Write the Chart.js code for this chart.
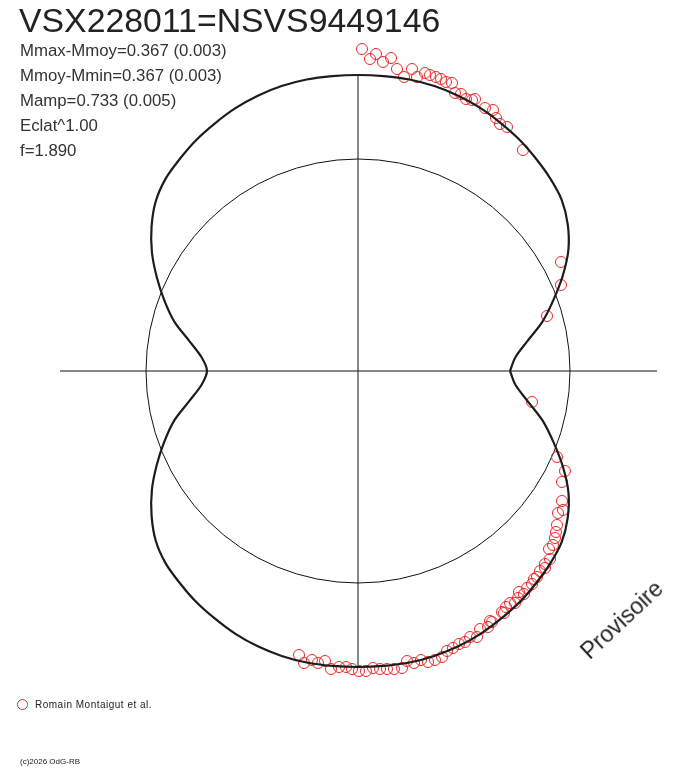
<!DOCTYPE html>
<html><head><meta charset="utf-8">
<script src="https://cdn.jsdelivr.net/npm/chart.js@4.4.1/dist/chart.umd.min.js"></script>
<style>
html,body{margin:0;padding:0;background:#fff;}
#wrap{position:relative;width:688px;height:768px;overflow:hidden;font-family:"Liberation Sans",Arial,sans-serif;color:#222;}
canvas{position:absolute;left:0;top:0;}
.t{position:absolute;white-space:nowrap;line-height:1;}
</style></head><body>
<div id="wrap">
<canvas id="c" width="688" height="768"></canvas>
</div>
<script>
// ---- data ----
const titleText = "VSX228011=NSVS9449146";
const statLines = ["Mmax-Mmoy=0.367 (0.003)", "Mmoy-Mmin=0.367 (0.003)", "Mamp=0.733 (0.005)", "Eclat^1.00", "f=1.890"];
const legendLabel = "Romain Montaigut et al.";
const stampText = "Provisoire";
const copyrightText = "(c)2026 OdG-RB";

// polar plot: mean brightness circle radius (plot units)
const meanRadius = 212;
// model curve: phase angle (deg, counter-clockwise from +x) and radius (plot units)
const curveAngleDeg = [0,5,10,15,20,25,30,35,40,45,50,55,60,65,70,75,80,85,
  90,95,100,105,110,115,120,125,130,135,140,145,150,155,160,165,170,175,
  180,185,190,195,200,205,210,215,220,225,230,235,240,245,250,255,260,265,
  270,275,280,285,290,295,300,305,310,315,320,325,330,335,340,345,350,355];
const curveRadius = [152,158,172,191,208,226,243,256,266,272,277,282,286,290,293,295,296,296,
  296,296,296,295,293,290,286,282,277,272,264,252,238,222,206,190,171,157,
  151,157,171,190,206,222,238,252,264,272,277,282,286,290,293,295,296,296,
  296,296,296,295,293,290,286,282,277,272,266,256,243,226,208,191,172,158];
// observations (plot units, x to the right, y up)
const obsX = [4,12,18,25,33,39,46,54,59,67,72,78,83,88,94,97,103,108,114,117,127,135,138,142,149,165,
  203,203,189,174,
  199,207,204,204,205,200,199,198,197,195,191,192,187,187,182,179,176,174,169,166,161,160,157,152,148,146,144,134,132,130,122,119,112,107,101,95,89,84,77,70,63,56,49,44,36,29,22,15,8,1,-6,-12,-19,-27,-33,-40,-46,-54,-59];
const obsY = [322,312,317,309,313,302,294,302,294,298,296,294,292,289,288,278,277,272,271,272,263,261,253,247,244,221,
  109,86,55,-31,
  -86,-100,-111,-130,-139,-142,-154,-161,-167,-174,-178,-188,-193,-197,-200,-206,-208,-213,-217,-223,-221,-227,-232,-232,-236,-242,-241,-251,-250,-256,-258,-266,-266,-271,-273,-277,-280,-286,-289,-291,-289,-292,-290,-297,-298,-298,-298,-297,-300,-300,-298,-296,-296,-298,-290,-292,-289,-292,-284];
const axisHorizontal = [-298, 299];
const axisVertical = [-297, 296];

// ---- text ----
const wrap = document.getElementById('wrap');
function addText(txt, css){ const d=document.createElement('div'); d.className='t'; d.textContent=txt; d.style.cssText+=css; wrap.appendChild(d); return d; }
addText(titleText, "left:19px;top:4px;font-size:33.8px;color:#222;");
statLines.forEach((s,i)=>addText(s, `left:20px;top:${43+25*i}px;font-size:16.8px;color:#333;`));
addText(stampText, "left:622px;top:620px;font-size:23px;color:#222;transform:translate(-50%,-50%) rotate(-43deg);");
addText(legendLabel, "left:35px;top:700px;font-size:10px;letter-spacing:0.5px;color:#222;");
addText(copyrightText, "left:20px;top:758px;font-size:8px;color:#222;");
const mk=document.createElement('div');
mk.style.cssText="position:absolute;left:17px;top:699px;width:9px;height:9px;border:1px solid rgb(232,40,40);border-radius:50%;";
wrap.appendChild(mk);

// ---- chart ----
const rad = Math.PI/180;
const curvePts = curveAngleDeg.map((a,i)=>({x: curveRadius[i]*Math.cos(a*rad), y: curveRadius[i]*Math.sin(a*rad)}));
curvePts.push(curvePts[0]);
const obsPts = obsX.map((x,i)=>({x, y: obsY[i]}));

const meanCircle = {
  id:'meanCircle',
  beforeDatasetsDraw(chart){
    const xs=chart.scales.x, ys=chart.scales.y, ctx=chart.ctx;
    const cx=xs.getPixelForValue(0), cy=ys.getPixelForValue(0);
    const r=xs.getPixelForValue(meanRadius)-cx;
    ctx.save(); ctx.strokeStyle='#111'; ctx.lineWidth=1;
    ctx.beginPath(); ctx.arc(cx,cy,r,0,Math.PI*2); ctx.stroke(); ctx.restore();
  }
};

new Chart(document.getElementById('c'), {
  type:'scatter',
  data:{datasets:[
    {label:'model', data:curvePts, showLine:true, borderColor:'#1c1c1c', borderWidth:2.2, pointRadius:0, tension:0.3, fill:false},
    {label:legendLabel, data:obsPts, showLine:false, pointRadius:5.5, pointStyle:'circle', borderColor:'rgb(232,40,40)', backgroundColor:'rgba(0,0,0,0)', borderWidth:1},
    {label:'h', data:axisHorizontal.map(x=>({x, y:0})), showLine:true, borderColor:'#111', borderWidth:1, pointRadius:0},
    {label:'v', data:axisVertical.map(y=>({x:0, y})), showLine:true, borderColor:'#111', borderWidth:1, pointRadius:0}
  ]},
  options:{
    responsive:false, animation:false, devicePixelRatio:1,
    layout:{padding:0, autoPadding:false},
    plugins:{legend:{display:false}, tooltip:{enabled:false}, title:{display:false}},
    scales:{
      x:{type:'linear', min:-358, max:330, display:false},
      y:{type:'linear', min:-397, max:371, display:false}
    }
  },
  plugins:[meanCircle]
});
</script>
</body></html>
